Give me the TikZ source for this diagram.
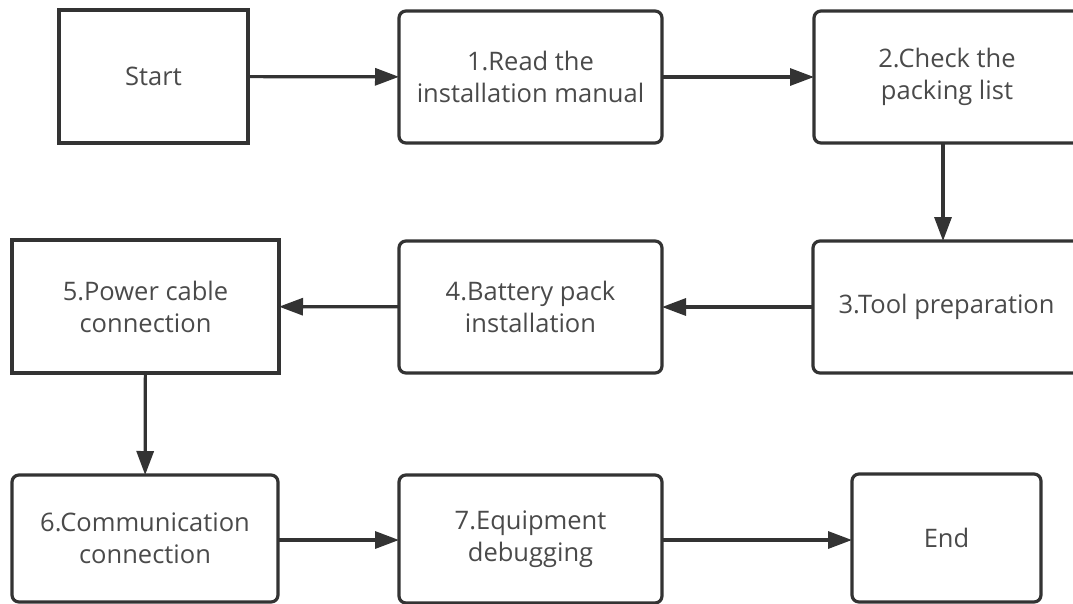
\documentclass[tikz,border=0pt]{standalone}
\usepackage{fontspec}
\setmainfont{Open Sans}
\usetikzlibrary{arrows.meta}
\definecolor{linec}{HTML}{333333}
\definecolor{textc}{HTML}{4a4a4a}
\tikzset{
  box/.style={draw=linec, line width=3.2pt, fill=white, text=textc, align=center,
    font=\fontsize{25.5}{32}\selectfont, inner sep=0pt, outer sep=0pt},
  rbox/.style={box, rounded corners=7pt},
  sbox/.style={box},
  flow/.style={draw=linec, line width=3.2pt, -{Triangle[length=24pt,width=17pt]}}
}
\begin{document}
\begin{tikzpicture}[x=1pt,y=-1pt]
\useasboundingbox (0,0) rectangle (1073,603);
\clip (0,0) rectangle (1073,603);
\fill[white] (0,0) rectangle (1073,603);
\node[sbox, minimum width=189pt, minimum height=133pt] (start) at (153.5,76.5) {Start};
\node[rbox, minimum width=263pt, minimum height=132pt] (read) at (530.5,77) {1.Read the\\installation manual};
\node[rbox, minimum width=266pt, minimum height=132pt] (check) at (947,77) {2.Check the\\packing list};
\node[rbox, minimum width=267pt, minimum height=132pt] (tool) at (946.5,307) {3.Tool preparation};
\node[rbox, minimum width=263pt, minimum height=132pt] (battery) at (530.5,307) {4.Battery pack\\installation};
\node[sbox, minimum width=267pt, minimum height=133pt] (power) at (145.5,306.5) {5.Power cable\\connection};
\node[rbox, minimum width=266pt, minimum height=127pt] (comm) at (145,538.5) {6.Communication\\connection};
\node[rbox, minimum width=263pt, minimum height=128pt] (equip) at (530.5,539) {7.Equipment\\debugging};
\node[rbox, minimum width=189pt, minimum height=128pt] (end) at (946.5,538) {End};
\draw[flow] (start) -- (read);
\draw[flow] (read) -- (check);
\draw[flow] (check.south -| 943,0) -- (tool.north -| 943,0);
\draw[flow] (tool) -- (battery);
\draw[flow] (battery) -- (power);
\draw[flow] (power) -- (comm);
\draw[flow] (comm.east |- 0,540) -- (equip.west |- 0,540);
\draw[flow] (equip.east |- 0,540) -- (end.west |- 0,540);
\end{tikzpicture}
\end{document}
